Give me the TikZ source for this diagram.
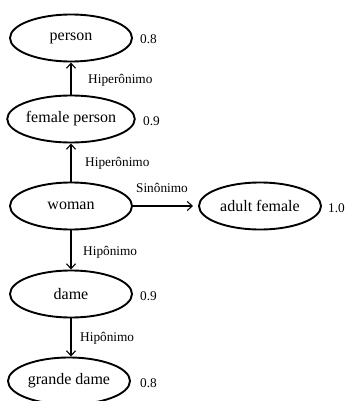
\documentclass[tikz,border=0pt]{standalone}
\usepackage{fontspec}
\setmainfont{Liberation Serif}
\usetikzlibrary{arrows.meta,shapes.geometric}
\begin{document}
\begin{tikzpicture}[x=1pt,y=-1pt,
  term/.style={draw,ellipse,line width=1.9pt,minimum width=122pt,minimum height=47pt,inner sep=0pt,font=\fontsize{16}{18}\selectfont},
  rel/.style={font=\fontsize{13.3}{15}\selectfont,inner sep=0pt},
  score/.style={font=\fontsize{13.3}{15}\selectfont,anchor=west,inner sep=0pt},
  link/.style={line width=1.1pt,-{Straight Barb[length=5pt,width=9pt]}}]
\useasboundingbox (0,0) rectangle (345,401);
% terms
\node[term] (person) at (71,38) {person};
\node[term] (fperson) at (71,119) {female person};
\node[term] (woman) at (71,206) {woman};
\node[term] (adult) at (260,206) {adult female};
\node[term] (dame) at (71,294) {dame};
\node[term] (gdame) at (69,381) {grande dame};
% scores
\node[score] (s1) at (140,39) {0.8};
\node[score] (s2) at (143,121) {0.9};
\node[score] (s3) at (328,208) {1.0};
\node[score] (s4) at (140,296) {0.9};
\node[score] (s5) at (140,383) {0.8};
% connectors
\draw[link] (fperson.north) -- (person.south);
\draw[link] (woman.north) -- (fperson.south);
\draw[link,shorten >=5pt] (woman.east) -- (adult.west);
\draw[link] (woman.south) -- (dame.north);
\draw[link] (dame.south) -- (dame.south |- gdame.north);
% relation labels
\node[rel,anchor=west] (r1) at (88,80) {Hiperônimo};
\node[rel,anchor=west] (r2) at (85,163) {Hiperônimo};
\node[rel] (r3) at (162,188) {Sinônimo};
\node[rel,anchor=west] (r4) at (83,252) {Hipônimo};
\node[rel,anchor=west] (r5) at (80,338) {Hipônimo};
\end{tikzpicture}
\end{document}
